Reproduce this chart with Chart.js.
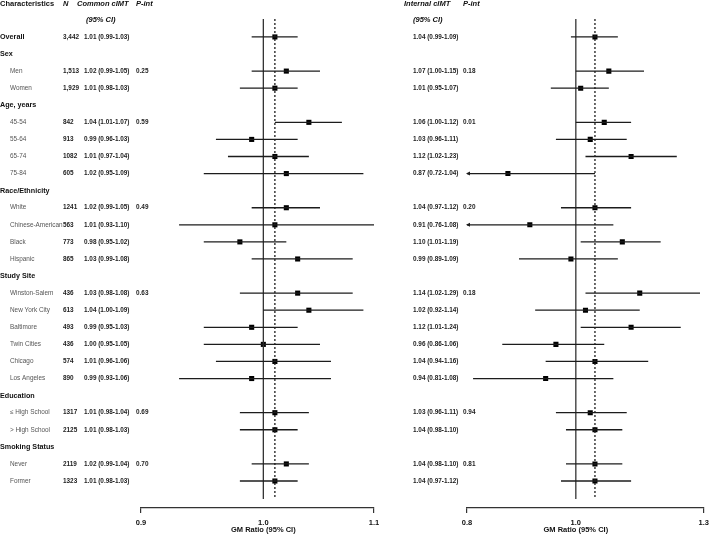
<!DOCTYPE html>
<html>
<head>
<meta charset="utf-8">
<script src="https://cdn.jsdelivr.net/npm/chart.js@4"></script>
<style>
  body { margin: 0; background: #fff; width: 709px; height: 534px; overflow: hidden; position: relative; }
  canvas { position: absolute; top: 0; }
  #left { left: 0; }
  #right { left: 390px; }
</style>
</head>
<body>
<canvas id="left" width="390" height="534"></canvas>
<canvas id="right" width="324" height="534"></canvas>
<script>
const FONT = "'Liberation Sans', Arial, sans-serif";

// rows, top to bottom
const rowLabels = [
  "Overall", "Sex", "Men", "Women", "Age, years", "45-54", "55-64", "65-74", "75-84",
  "Race/Ethnicity", "White", "Chinese-American", "Black", "Hispanic",
  "Study Site", "Winston-Salem", "New York City", "Baltimore", "Twin Cities", "Chicago", "Los Angeles",
  "Education", "≤ High School", "> High School", "Smoking Status", "Never", "Former"
];
const rowKind = [
  "main", "head", "sub", "sub", "head", "sub", "sub", "sub", "sub",
  "head", "sub", "sub", "sub", "sub",
  "head", "sub", "sub", "sub", "sub", "sub", "sub",
  "head", "sub", "sub", "head", "sub", "sub"
];
const nVals = [
  "3,442", null, "1,513", "1,929", null, "842", "913", "1082", "605",
  null, "1241", "563", "773", "865",
  null, "436", "613", "493", "436", "574", "890",
  null, "1317", "2125", null, "2119", "1323"
];

// Common cIMT
const commonEst = [1.01, null, 1.02, 1.01, null, 1.04, 0.99, 1.01, 1.02, null, 1.02, 1.01, 0.98, 1.03,
  null, 1.03, 1.04, 0.99, 1.00, 1.01, 0.99, null, 1.01, 1.01, null, 1.02, 1.01];
const commonLo = [0.99, null, 0.99, 0.98, null, 1.01, 0.96, 0.97, 0.95, null, 0.99, 0.93, 0.95, 0.99,
  null, 0.98, 1.00, 0.95, 0.95, 0.96, 0.93, null, 0.98, 0.98, null, 0.99, 0.98];
const commonHi = [1.03, null, 1.05, 1.03, null, 1.07, 1.03, 1.04, 1.09, null, 1.05, 1.10, 1.02, 1.08,
  null, 1.08, 1.09, 1.03, 1.05, 1.06, 1.06, null, 1.04, 1.03, null, 1.04, 1.03];
const commonP = [null, null, "0.25", null, null, "0.59", null, null, null, null, "0.49", null, null, null,
  null, "0.63", null, null, null, null, null, null, "0.69", null, null, "0.70", null];

// Internal cIMT
const internalEst = [1.04, null, 1.07, 1.01, null, 1.06, 1.03, 1.12, 0.87, null, 1.04, 0.91, 1.10, 0.99,
  null, 1.14, 1.02, 1.12, 0.96, 1.04, 0.94, null, 1.03, 1.04, null, 1.04, 1.04];
const internalLo = [0.99, null, 1.00, 0.95, null, 1.00, 0.96, 1.02, 0.72, null, 0.97, 0.76, 1.01, 0.89,
  null, 1.02, 0.92, 1.01, 0.86, 0.94, 0.81, null, 0.96, 0.98, null, 0.98, 0.97];
const internalHi = [1.09, null, 1.15, 1.07, null, 1.12, 1.11, 1.23, 1.04, null, 1.12, 1.08, 1.19, 1.09,
  null, 1.29, 1.14, 1.24, 1.06, 1.16, 1.08, null, 1.11, 1.10, null, 1.10, 1.12];
const internalP = [null, null, "0.18", null, null, "0.01", null, null, null, null, "0.20", null, null, null,
  null, "0.18", null, null, null, null, null, null, "0.94", null, null, "0.81", null];

const commonTicks = [0.9, 1.0, 1.1];
const internalTicks = [0.8, 1.0, 1.3];

const INK = "#1c1c1c";

function ciText(e, l, h) {
  return `${e.toFixed(2)} (${l.toFixed(2)}-${h.toFixed(2)})`;
}

function makeForest(canvas, cfg) {
  const { est, lo, hi, pv, ticks, pad, cols, headers } = cfg;
  const xMin = ticks[0], xMax = ticks[ticks.length - 1];
  const datasets = [];

  // CI whiskers
  est.forEach((e, i) => {
    if (e == null) return;
    datasets.push({
      type: "scatter", showLine: true, pointRadius: 0,
      data: [{ x: lo[i], y: i }, { x: hi[i], y: i }],
      borderColor: INK, borderWidth: 1.3
    });
  });
  // reference line at 1 and overall estimate line
  datasets.push({
    type: "scatter", showLine: true, pointRadius: 0,
    data: [{ x: 1, y: -1.05 }, { x: 1, y: 27.05 }],
    borderColor: "#333", borderWidth: 1.3
  });
  datasets.push({
    type: "scatter", showLine: true, pointRadius: 0,
    data: [{ x: est[0], y: -1.05 }, { x: est[0], y: 27.05 }],
    borderColor: INK, borderWidth: 1.3, borderDash: [2, 2]
  });
  // point estimates
  datasets.push({
    type: "scatter",
    data: est.map((e, i) => (e == null ? null : { x: e, y: i })).filter(Boolean),
    pointStyle: "rect", pointRadius: 3.6, pointHoverRadius: 3.6,
    backgroundColor: "#000", borderColor: "#000", borderWidth: 0
  });

  const textPlugin = {
    id: "forestText",
    afterDraw(chart) {
      const c = chart.ctx;
      const ys = chart.scales.y, xs = chart.scales.x;
      const area = chart.chartArea;
      c.save();
      c.textBaseline = "middle";
      c.textAlign = "left";

      // column headers
      c.fillStyle = "#111";
      headers.forEach((h) => {
        c.font = `${h.italic ? "italic " : ""}bold 7.5px ${FONT}`;
        c.fillText(h.text, h.x, ys.getPixelForValue(h.row));
      });

      rowLabels.forEach((lab, i) => {
        const y = ys.getPixelForValue(i);
        if (cols.label != null) {
          if (rowKind[i] === "sub") {
            c.font = `6.4px ${FONT}`;
            c.fillStyle = "#555";
            c.fillText(lab, cols.label + 10, y);
          } else {
            c.font = `bold 7.2px ${FONT}`;
            c.fillStyle = "#111";
            c.fillText(lab, cols.label, y);
          }
        }
        c.font = `bold 6.4px ${FONT}`;
        c.fillStyle = "#222";
        if (cols.n != null && nVals[i]) c.fillText(nVals[i], cols.n, y);
        if (est[i] != null) c.fillText(ciText(est[i], lo[i], hi[i]), cols.ci, y);
        if (pv[i]) c.fillText(pv[i], cols.p, y);

        // arrow where the interval runs past the axis
        if (lo[i] != null && lo[i] < xMin) {
          const px = area.left;
          c.fillStyle = INK;
          c.beginPath();
          c.moveTo(px - 1, y);
          c.lineTo(px + 3, y - 2);
          c.lineTo(px + 3, y + 2);
          c.closePath();
          c.fill();
        }
      });

      // axis title
      c.font = `bold 7.5px ${FONT}`;
      c.fillStyle = "#111";
      c.textAlign = "center";
      c.fillText("GM Ratio (95% CI)", xs.getPixelForValue(1), 529.5);
      c.restore();
    }
  };

  return new Chart(canvas.getContext("2d"), {
    type: "scatter",
    data: { datasets },
    options: {
      responsive: false,
      animation: false,
      events: [],
      layout: { padding: pad },
      plugins: { legend: { display: false }, tooltip: { enabled: false } },
      scales: {
        x: {
          type: "logarithmic",
          min: xMin,
          max: xMax,
          afterBuildTicks: (s) => { s.ticks = ticks.map((v) => ({ value: v })); },
          grid: {
            drawOnChartArea: false,
            drawTicks: true,
            tickLength: 5,
            lineWidth: 1.2,
            color: (c) => (c.tick && c.tick.value === 1 ? "rgba(0,0,0,0)" : "#333")
          },
          border: { display: true, color: "#333", width: 1.2 },
          ticks: {
            autoSkip: false,
            maxRotation: 0,
            padding: 5,
            color: "#111",
            font: { family: FONT, size: 7.5, weight: "bold" },
            callback: (v) => Number(v).toFixed(1)
          }
        },
        y: {
          type: "linear",
          reverse: true,
          min: -1.05,
          max: 27.58,
          display: false
        }
      }
    },
    plugins: [textPlugin]
  });
}

makeForest(document.getElementById("left"), {
  est: commonEst, lo: commonLo, hi: commonHi, pv: commonP, ticks: commonTicks,
  pad: { left: 141, right: 16, top: 19, bottom: 2 },
  cols: { label: 0, n: 63, ci: 84, p: 136 },
  headers: [
    { text: "Characteristics", x: 0, row: -1.92 },
    { text: "N", x: 63, row: -1.92, italic: true },
    { text: "Common cIMT", x: 77, row: -1.92, italic: true },
    { text: "P-int", x: 136, row: -1.92, italic: true },
    { text: "(95% CI)", x: 86, row: -0.98, italic: true }
  ]
});

makeForest(document.getElementById("right"), {
  est: internalEst, lo: internalLo, hi: internalHi, pv: internalP, ticks: internalTicks,
  pad: { left: 77, right: 2, top: 19, bottom: 2 },
  cols: { label: null, n: null, ci: 23, p: 73 },
  headers: [
    { text: "Internal cIMT", x: 14, row: -1.92, italic: true },
    { text: "P-int", x: 73, row: -1.92, italic: true },
    { text: "(95% CI)", x: 23, row: -0.98, italic: true }
  ]
});
</script>
</body>
</html>
